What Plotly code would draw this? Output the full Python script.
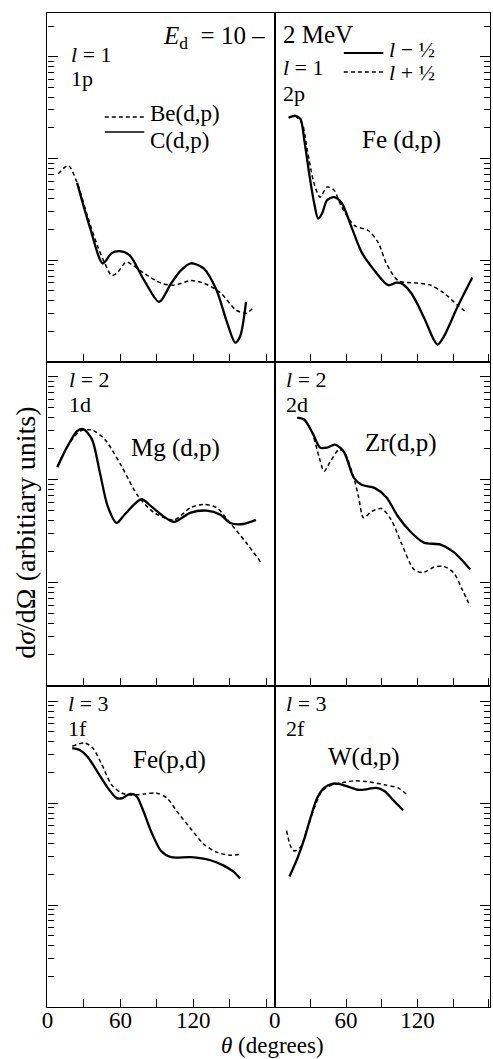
import plotly.graph_objects as go
from plotly.subplots import make_subplots

# ---------------- data (theta in degrees, log10 of dsigma/dOmega, arbitrary units) --------------
# 1p panel
be_theta = [8.9, 17.1, 24.4, 33.3, 41.5, 47.2, 52.8, 56.9, 63.4, 65.9, 79.7, 93.5, 104, 118, 128.5, 142.3, 155.3, 163.4, 169.1]
be_log = [1.85, 1.93, 1.76, 1.42, 1.13, 0.97, 0.85, 0.87, 0.97, 0.98, 0.87, 0.775, 0.755, 0.80, 0.775, 0.68, 0.51, 0.48, 0.53]
c_theta = [24.4, 35.0, 45.5, 52.8, 59.3, 67.5, 79.7, 91.9, 101.6, 109.8, 117.9, 128.5, 139, 147.2, 154.5, 158.5, 163.4]
c_log = [1.76, 1.32, 0.97, 1.07, 1.09, 1.05, 0.80, 0.59, 0.77, 0.90, 0.97, 0.92, 0.71, 0.41, 0.19, 0.25, 0.59]

# 2p panel Fe(d,p)
fe2p_minus_theta = [11.6, 17.4, 21.6, 24.9, 29.0, 33.2, 36.5, 39.8, 44.0, 49.8, 56.4, 64.7, 73.0, 83.8, 95.4, 102.1, 106.2, 114.5, 125.3, 133.6, 136.9, 141.9, 153.5, 166]
fe2p_minus_log = [2.40, 2.42, 2.39, 2.18, 1.85, 1.56, 1.41, 1.46, 1.59, 1.62, 1.56, 1.32, 1.08, 0.90, 0.755, 0.78, 0.775, 0.68, 0.44, 0.22, 0.17, 0.245, 0.54, 0.83]
fe2p_plus_theta = [17.4, 23.2, 27.4, 33.2, 38.2, 44.0, 49.8, 56.4, 67.2, 78.8, 87.1, 93.8, 103.7, 120.3, 131.1, 141.9, 153.5, 161.8]
fe2p_plus_log = [2.42, 2.34, 2.08, 1.75, 1.62, 1.72, 1.69, 1.52, 1.34, 1.29, 1.17, 0.97, 0.80, 0.775, 0.755, 0.68, 0.56, 0.48]

# 1d panel Mg(d,p)
mg_minus_theta = [8.1, 16.3, 24.4, 29.3, 36.6, 43.1, 49.6, 56.9, 63.4, 77.2, 85.4, 95.9, 104.1, 117.9, 130.9, 142.3, 150.4, 161, 171.5]
mg_minus_log = [2.12, 2.32, 2.47, 2.49, 2.39, 2.07, 1.74, 1.58, 1.66, 1.81, 1.74, 1.64, 1.59, 1.68, 1.70, 1.66, 1.58, 1.57, 1.61]
mg_plus_theta = [8.1, 16.3, 26.8, 36.6, 47.2, 61.0, 74.0, 87.8, 104.1, 117.9, 128.5, 139.0, 150.4, 163.4, 175.6]
mg_plus_log = [2.13, 2.32, 2.47, 2.48, 2.39, 2.13, 1.85, 1.68, 1.61, 1.73, 1.76, 1.73, 1.58, 1.39, 1.20]

# 2d panel Zr(d,p)
zr_minus_theta = [19.1, 24.9, 31.5, 38.2, 44.0, 50.6, 58.1, 66.4, 73.0, 83.8, 93.8, 103.7, 114.5, 125.3, 139.4, 150.2, 164.3]
zr_minus_log = [2.60, 2.58, 2.46, 2.31, 2.31, 2.34, 2.27, 2.02, 1.95, 1.92, 1.83, 1.64, 1.49, 1.39, 1.37, 1.30, 1.13]
zr_plus_theta = [19.1, 24.9, 31.5, 37.3, 41.5, 46.5, 53.9, 58.1, 66.4, 70.5, 74.7, 81.3, 89.6, 97.9, 106.2, 117.0, 124.5, 133.6, 141.9, 150.2, 157.7, 164.3]
zr_plus_log = [2.60, 2.58, 2.45, 2.22, 2.08, 2.17, 2.29, 2.27, 2.02, 1.83, 1.63, 1.69, 1.72, 1.61, 1.39, 1.13, 1.10, 1.15, 1.16, 1.10, 0.93, 0.77]

# 1f panel Fe(p,d)
fepd_minus_theta = [20.3, 26.8, 33.3, 41.5, 49.6, 56.9, 61.8, 67.5, 73.2, 78.0, 85.4, 93.5, 101.6, 117.9, 134.1, 144.7, 152.8, 158.5]
fepd_minus_log = [2.54, 2.52, 2.45, 2.30, 2.15, 2.05, 2.05, 2.09, 2.07, 1.95, 1.72, 1.53, 1.47, 1.47, 1.44, 1.39, 1.33, 1.26]
fepd_plus_theta = [20.3, 30.9, 37.4, 44.7, 52.8, 61.0, 69.1, 79.7, 89.4, 98.4, 106.5, 117.9, 128.5, 139.0, 150.4, 159.3]
fepd_plus_log = [2.56, 2.59, 2.54, 2.38, 2.18, 2.10, 2.08, 2.09, 2.10, 2.05, 1.92, 1.75, 1.60, 1.52, 1.49, 1.50]

# 2f panel W(d,p)
w_minus_theta = [12.4, 19.1, 24.9, 29.9, 35.7, 41.5, 48.1, 53.9, 62.2, 70.5, 78.8, 85.5, 92.1, 99.6, 107.9]
w_minus_log = [1.28, 1.46, 1.65, 1.85, 2.05, 2.15, 2.19, 2.19, 2.16, 2.13, 2.14, 2.15, 2.12, 2.03, 1.93]
w_plus_theta = [10.0, 13.3, 16.6, 21.6, 27.4, 33.2, 39.8, 46.5, 56.4, 67.2, 78.8, 92.1, 103.7, 110.4]
w_plus_log = [1.73, 1.58, 1.53, 1.57, 1.75, 1.95, 2.12, 2.17, 2.20, 2.22, 2.21, 2.18, 2.15, 2.09]

x_label_vals = [0, 60, 120]
x_label_text = ["0", "60", "120"]
y_major = [1, 10, 100, 1000]

# ---------------- figure ----------------
W, H = 493, 1059
FONT = "Liberation Serif"
fig = make_subplots(rows=3, cols=2, horizontal_spacing=0, vertical_spacing=0)

def px(x):
    return x / W

def py(y):
    return 1 - y / H

SOLID = dict(color="black", width=2.3, shape="spline", smoothing=0.8)
DASH = dict(color="black", width=1.5, dash="4px,3px", shape="spline", smoothing=0.8)

series = [
    (1, 1, be_theta, be_log, DASH),
    (1, 1, c_theta, c_log, SOLID),
    (1, 2, fe2p_plus_theta, fe2p_plus_log, DASH),
    (1, 2, fe2p_minus_theta, fe2p_minus_log, SOLID),
    (2, 1, mg_plus_theta, mg_plus_log, DASH),
    (2, 1, mg_minus_theta, mg_minus_log, SOLID),
    (2, 2, zr_plus_theta, zr_plus_log, DASH),
    (2, 2, zr_minus_theta, zr_minus_log, SOLID),
    (3, 1, fepd_plus_theta, fepd_plus_log, DASH),
    (3, 1, fepd_minus_theta, fepd_minus_log, SOLID),
    (3, 2, w_plus_theta, w_plus_log, DASH),
    (3, 2, w_minus_theta, w_minus_log, SOLID),
]
for r, c, th, lg, ln in series:
    fig.add_trace(go.Scatter(x=th, y=[10 ** v for v in lg], mode="lines", line=ln,
                             showlegend=False, hoverinfo="skip"), row=r, col=c)

# pixel geometry of panels
row_px = [(13, 362), (362, 686), (686, 1007)]
row_top_log = [3.43, 3.14, 3.15]
col_px = [(42, 272), (272, 490)]
col_range = [(0, (272 - 42) / 1.23), (0, (490 - 272) / 1.205)]

for r in range(3):
    for c in range(2):
        idx = r * 2 + c + 1
        xa = "xaxis" if idx == 1 else f"xaxis{idx}"
        ya = "yaxis" if idx == 1 else f"yaxis{idx}"
        bottom = r == 2
        fig.layout[xa].update(
            domain=[px(col_px[c][0]), px(col_px[c][1])],
            range=list(col_range[c]),
            showgrid=False, zeroline=False,
            showline=True, linecolor="black", linewidth=1.2, mirror=True,
            ticks="inside", ticklen=8, tickwidth=1, tickcolor="black",
            tickmode="array", tickvals=x_label_vals, ticktext=x_label_text,
            minor=dict(ticks="inside", ticklen=8, tickwidth=1, tickcolor="black",
                       tick0=0, dtick=30, showgrid=False),
            showticklabels=bottom, ticklabelstandoff=-8,
            tickfont=dict(family=FONT, size=23, color="black"),
        )
        fig.layout[ya].update(
            domain=[py(row_px[r][1]), py(row_px[r][0])],
            type="log", range=[0, row_top_log[r]],
            showgrid=False, zeroline=False,
            showline=True, linecolor="black", linewidth=1.2, mirror=True,
            side="left" if c == 0 else "right",
            ticks="inside", ticklen=10, tickwidth=1, tickcolor="black",
            tickmode="array", tickvals=y_major, showticklabels=False,
            minor=dict(ticks="inside", ticklen=6, tickwidth=1, tickcolor="black",
                       dtick="D1", showgrid=False),
        )

def txt(x, y, s, size=24, xanchor="left", yanchor="middle", textangle=0):
    fig.add_annotation(x=px(x), y=py(y), xref="paper", yref="paper", text=s,
                       showarrow=False, xanchor=xanchor, yanchor=yanchor,
                       textangle=textangle,
                       font=dict(family=FONT, size=size, color="black"))

# header
txt(264, 37, "<i>E</i><sub>d</sub>  = 10 –", size=25, xanchor="right")
txt(278, 35, "2 MeV", size=25)

# panel labels
txt(64, 54, "<i>l</i> = 1", size=22)
txt(64, 79, "1p", size=22)
txt(278, 68, "<i>l</i> = 1", size=22)
txt(278, 93, "2p", size=22)
txt(62, 379, "<i>l</i> = 2", size=22)
txt(62, 404, "1d", size=22)
txt(281, 379, "<i>l</i> = 2", size=22)
txt(281, 404, "2d", size=22)
txt(61, 703, "<i>l</i> = 3", size=22)
txt(61, 728, "1f", size=22)
txt(281, 703, "<i>l</i> = 3", size=22)
txt(281, 728, "2f", size=22)

# reaction labels
txt(400, 140, "Fe (d,p)", size=25, xanchor="center")
txt(172, 448, "Mg (d,p)", size=25, xanchor="center")
txt(400, 443, "Zr(d,p)", size=25, xanchor="center")
txt(166, 760, "Fe(p,d)", size=25, xanchor="center")
txt(362, 757, "W(d,p)", size=25, xanchor="center")

# legends
fig.add_shape(type="line", xref="paper", yref="paper", x0=px(100), x1=px(140), y0=py(117), y1=py(117),
              line=dict(color="black", width=1.5, dash="4px,3px"))
txt(144, 113, "Be(d,p)", size=23)
fig.add_shape(type="line", xref="paper", yref="paper", x0=px(100), x1=px(140), y0=py(132), y1=py(132),
              line=dict(color="black", width=1.5))
txt(144, 140, "C(d,p)", size=23)
fig.add_shape(type="line", xref="paper", yref="paper", x0=px(342), x1=px(382), y0=py(53), y1=py(53),
              line=dict(color="black", width=1.8))
txt(386, 49, "<i>l</i> − ½", size=22)
fig.add_shape(type="line", xref="paper", yref="paper", x0=px(342), x1=px(382), y0=py(72), y1=py(72),
              line=dict(color="black", width=1.3, dash="4px,3px"))
txt(386, 73, "<i>l</i> + ½", size=22)

# axis titles
txt(270, 1045, "<i>θ</i> (degrees)", size=23, xanchor="center")
txt(19, 533, "d<i>σ</i>/dΩ (arbitiary units)", size=28, xanchor="center", textangle=-90)

fig.update_layout(width=W, height=H, margin=dict(l=0, r=0, t=0, b=0),
                  paper_bgcolor="white", plot_bgcolor="white", showlegend=False)
fig.write_html("out.html")
